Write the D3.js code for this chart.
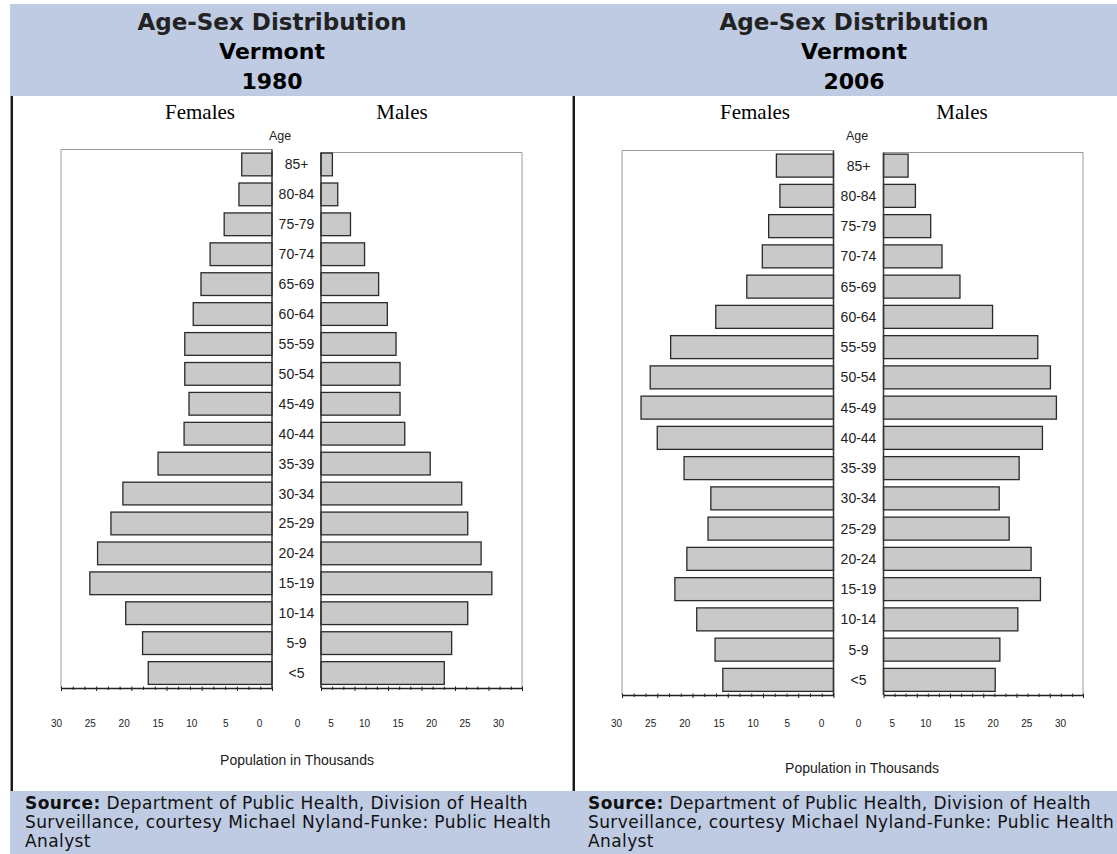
<!DOCTYPE html>
<html>
<head>
<meta charset="utf-8">
<script src="https://cdn.jsdelivr.net/npm/d3@7"></script>
<style>
  body { margin: 0; background: #fff; }
  svg { display: block; }
</style>
</head>
<body>
<svg id="chart" width="1117" height="854"></svg>
<script>
// age groups, top to bottom
const ageGroups = ["85+", "80-84", "75-79", "70-74", "65-69", "60-64", "55-59", "50-54", "45-49",
  "40-44", "35-39", "30-34", "25-29", "20-24", "15-19", "10-14", "5-9", "<5"];

// population in thousands
const females1980 = [4.3, 4.7, 6.8, 8.8, 10.1, 11.2, 12.4, 12.4, 11.8, 12.5, 16.2, 21.2, 22.9, 24.8, 25.9, 20.8, 18.4, 17.6];
const males1980 = [1.7, 2.5, 4.4, 6.5, 8.6, 9.9, 11.2, 11.8, 11.8, 12.5, 16.3, 21.0, 21.9, 23.9, 25.5, 21.9, 19.5, 18.4];
const females2006 = [8.1, 7.6, 9.2, 10.1, 12.3, 16.7, 23.1, 26.0, 27.3, 25.0, 21.2, 17.4, 17.8, 20.8, 22.5, 19.4, 16.8, 15.7];
const males2006 = [3.7, 4.8, 7.1, 8.8, 11.5, 16.4, 23.2, 25.1, 26.0, 23.9, 20.4, 17.4, 18.9, 22.2, 23.6, 20.2, 17.5, 16.8];

const tickLabels = [0, 5, 10, 15, 20, 25, 30];
const years = ["1980", "2006"];

const svg = d3.select("#chart");
const blue = "#bfcbe3";
const sans = "Liberation Sans, Arial, sans-serif";

// header and footer bands
svg.append("rect").attr("x", 10).attr("y", 4).attr("width", 1107).attr("height", 92).attr("fill", blue);
svg.append("rect").attr("x", 10).attr("y", 791).attr("width", 1107).attr("height", 63).attr("fill", blue);

// cell border lines
[10, 572].forEach(x => {
  svg.append("rect").attr("x", x).attr("y", 96).attr("width", 1).attr("height", 695).attr("fill", "#999");
  svg.append("rect").attr("x", x + 1).attr("y", 96).attr("width", 2).attr("height", 695).attr("fill", "#1a1a1a");
});

function drawPyramid(o, females, males, year) {
  const g = svg.append("g");

  // titles
  const title = g.append("text")
    .attr("text-anchor", "middle")
    .style("font-family", "DejaVu Sans, Verdana, sans-serif")
    .style("font-weight", "bold")
    .style("font-size", "22px");
  title.append("tspan").attr("x", o.titleX).attr("y", 30).attr("fill", "#222")
    .style("font-size", "23px").text("Age-Sex Distribution");
  title.append("tspan").attr("x", o.titleX).attr("y", 59).attr("fill", "#000").text("Vermont");
  title.append("tspan").attr("x", o.titleX).attr("y", 89).attr("fill", "#000").text(year);

  g.selectAll("sexTitles")
    .data([["Females", o.femalesX], ["Males", o.malesX]])
    .enter()
    .append("text")
    .attr("x", d => d[1])
    .attr("y", 119)
    .attr("text-anchor", "middle")
    .style("font-family", "Liberation Serif, Times New Roman, serif")
    .style("font-size", "21px")
    .text(d => d[0]);

  // scales
  const xF = d3.scaleLinear().domain([0, 30]).range([o.femZero, o.femLeft]);
  const xM = d3.scaleLinear().domain([0, 30]).range([o.maleZero, o.maleRight]);
  const y = d3.scaleBand()
    .domain(ageGroups)
    .range([o.top, o.bottom])
    .paddingInner(0.24)
    .paddingOuter(0.12);

  // plot frames
  g.append("path")
    .attr("d", `M${o.femZero},${o.femTop}H${o.femLeft}V${o.bottom}`)
    .attr("fill", "none").attr("stroke", "#9a9a9a").attr("stroke-width", 1);
  g.append("path")
    .attr("d", `M${o.maleZero},${o.maleTop}H${o.maleRight}V${o.bottom}`)
    .attr("fill", "none").attr("stroke", "#9a9a9a").attr("stroke-width", 1);

  // bars
  g.selectAll("femBars")
    .data(females)
    .enter()
    .append("rect")
    .attr("x", d => xF(d))
    .attr("y", (d, i) => y(ageGroups[i]))
    .attr("width", d => xF(0) - xF(d))
    .attr("height", y.bandwidth())
    .attr("fill", "#c9c9ca")
    .attr("stroke", "#2a2a2a")
    .attr("stroke-width", 1.3);

  g.selectAll("maleBars")
    .data(males)
    .enter()
    .append("rect")
    .attr("x", xM(0))
    .attr("y", (d, i) => y(ageGroups[i]))
    .attr("width", d => xM(d) - xM(0))
    .attr("height", y.bandwidth())
    .attr("fill", "#c9c9ca")
    .attr("stroke", "#2a2a2a")
    .attr("stroke-width", 1.3);

  // zero lines
  [[xF(0), o.femTop], [xM(0), o.maleTop]].forEach(d => {
    g.append("line")
      .attr("x1", d[0]).attr("x2", d[0])
      .attr("y1", d[1]).attr("y2", o.bottom)
      .attr("stroke", "#333").attr("stroke-width", 1.5);
  });

  // bottom axis lines with minor ticks
  const minor = d3.range(0, 30.001, 5 / 3);
  [xF, xM].forEach(sc => {
    const ax = g.append("g")
      .attr("transform", `translate(0,${o.bottom})`)
      .call(d3.axisBottom(sc).tickValues(minor).tickSize(2).tickSizeOuter(0).tickFormat(""));
    ax.select(".domain").attr("stroke", "#222").attr("stroke-width", 1.3);
    ax.selectAll(".tick line")
      .attr("stroke", "#222")
      .attr("y1", -1.5)
      .attr("y2", (d, i) => i % 3 === 0 ? 3 : 2);
  });

  // age labels
  g.selectAll("ageLabels")
    .data(ageGroups)
    .enter()
    .append("text")
    .attr("x", o.ageX)
    .attr("y", d => y(d) + y.bandwidth() / 2)
    .attr("text-anchor", "middle")
    .attr("dominant-baseline", "central")
    .attr("fill", "#222")
    .style("font-family", sans)
    .style("font-size", "14px")
    .text(d => d);

  g.append("text")
    .attr("x", o.ageTitleX).attr("y", 140)
    .attr("text-anchor", "middle")
    .attr("fill", "#222")
    .style("font-family", sans)
    .style("font-size", "12.5px")
    .text("Age");

  // tick labels sit a little off from the bars in the original
  const labF = d3.scaleLinear().domain([30, 0]).range(o.femLab);
  const labM = d3.scaleLinear().domain([0, 30]).range(o.maleLab);
  [labF, labM].forEach(sc => {
    const ax = g.append("g")
      .attr("transform", `translate(0,${o.tickY})`)
      .call(d3.axisBottom(sc).tickValues(tickLabels).tickSize(0).tickPadding(0));
    ax.select(".domain").remove();
    ax.selectAll("text")
      .attr("fill", "#222")
      .style("font-family", sans)
      .style("font-size", "10px");
  });

  g.append("text")
    .attr("x", o.xTitleX).attr("y", o.xTitleY)
    .attr("text-anchor", "middle")
    .attr("fill", "#222")
    .style("font-family", sans)
    .style("font-size", "14px")
    .text("Population in Thousands");

  // source note
  const src = g.append("text")
    .attr("fill", "#111")
    .style("font-family", "DejaVu Sans, Verdana, sans-serif")
    .style("font-size", "17px")
    .style("letter-spacing", "0.4px");
  const l1 = src.append("tspan").attr("x", o.srcX).attr("y", 809);
  l1.append("tspan").style("font-weight", "bold").text("Source:");
  l1.append("tspan").text(" Department of Public Health, Division of Health");
  src.append("tspan").attr("x", o.srcX).attr("y", 828).text("Surveillance, courtesy Michael Nyland-Funke: Public Health");
  src.append("tspan").attr("x", o.srcX).attr("y", 847).text("Analyst");
}

drawPyramid({
  titleX: 272, femalesX: 200, malesX: 402,
  femLeft: 61, femZero: 272, maleZero: 321, maleRight: 522,
  top: 149.5, bottom: 688, femTop: 149.5, maleTop: 152.5,
  ageX: 296.5, ageTitleX: 280,
  femLab: [56, 259], maleLab: [297, 498], tickY: 720,
  xTitleX: 297, xTitleY: 765, srcX: 25
}, females1980, males1980, years[0]);

drawPyramid({
  titleX: 854, femalesX: 755, malesX: 962,
  femLeft: 622, femZero: 833.5, maleZero: 883.5, maleRight: 1083,
  top: 150.5, bottom: 695, femTop: 150.5, maleTop: 152.5,
  ageX: 858.5, ageTitleX: 857,
  femLab: [616, 821], maleLab: [858, 1060], tickY: 720,
  xTitleX: 862, xTitleY: 773, srcX: 588
}, females2006, males2006, years[1]);
</script>
</body>
</html>
